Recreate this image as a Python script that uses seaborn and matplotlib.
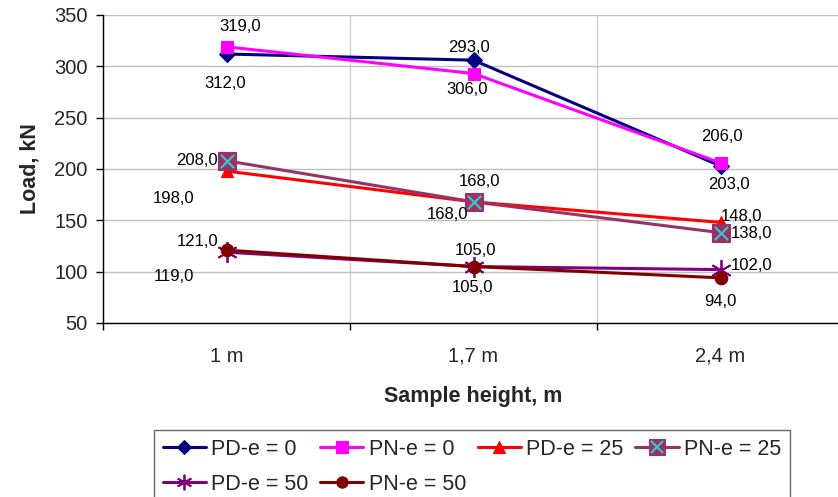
import numpy as np
import pandas as pd
import matplotlib
matplotlib.use("Agg")
import matplotlib.pyplot as plt
import seaborn as sns
from matplotlib.lines import Line2D

# data
heights = ["1 m", "1,7 m", "2,4 m"]
series_names = ["PD-e = 0", "PN-e = 0", "PD-e = 25", "PN-e = 25", "PD-e = 50", "PN-e = 50"]
pd_e0 = [312, 306, 203]
pn_e0 = [319, 293, 206]
pd_e25 = [198, 168, 148]
pn_e25 = [208, 168, 138]
pd_e50 = [119, 105, 102]
pn_e50 = [121, 105, 94]
y_ticks = [50, 100, 150, 200, 250, 300, 350]

values = [pd_e0, pn_e0, pd_e25, pn_e25, pd_e50, pn_e50]

# style per series: colour, marker, marker size
colors = ["#000080", "#FF00FF", "#FF0000", "#993366", "#800080", "#800000"]
markers = ["D", "s", "^", "s", (6, 2, 0), "o"]
msizes = [8, 9, 9, 13, 15, 9]

# data label offsets in pixels (dx, dy), dy positive = up
label_offsets = [
    [(-1, -29), (-6, -29), (8, -19)],
    [(14, 20), (-5, 26), (1, 26)],
    [(-53, -27), (-26, -13), (21, 6)],
    [(-30, 0), (6, 20), (31, -1)],
    [(-53, -24), (-1, -21), (31, 4)],
    [(-29, 9), (2, 16), (0, -24)],
]

rows = []
for name, vals in zip(series_names, values):
    for h, v in zip(heights, vals):
        rows.append({"height": h, "load": v, "series": name})
df = pd.DataFrame(rows)

sns.set_style("white")
plt.rcParams["font.family"] = ["Liberation Sans", "DejaVu Sans"]

fig = plt.figure(figsize=(8.38, 4.97), dpi=100)
ax = fig.add_axes([103 / 838, 1 - 323 / 497, 741 / 838, 308 / 497])

px = 0.72  # pixels -> points
for i, name in enumerate(series_names):
    sub = df[df["series"] == name]
    sns.lineplot(data=sub, x="height", y="load", ax=ax, color=colors[i],
                 marker=markers[i], markersize=msizes[i], markeredgecolor=colors[i],
                 markeredgewidth=1.3 if i == 4 else 0.8, linewidth=2.2,
                 sort=False, legend=False, zorder=3 + i)
    if name == "PN-e = 25":
        ax.scatter(sub["height"], sub["load"], marker="x", s=90, color="#33CCCC",
                   linewidths=1.5, zorder=3 + i + 0.5)
    for j, (h, v) in enumerate(zip(heights, values[i])):
        dx, dy = label_offsets[i][j]
        ax.annotate(f"{v},0", (j, v), xytext=(dx * px, dy * px), textcoords="offset points",
                    ha="center", va="center", fontsize=12, color="black", zorder=20)

ax.set_xlim(-0.5, 2.5)
ax.set_ylim(50, 350)
ax.set_yticks(y_ticks)
ax.set_xticks(range(len(heights)))
ax.set_xticklabels(heights)
ax.set_xticks([-0.5, 0.5, 1.5, 2.5], minor=True)
ax.grid(False)
ax.yaxis.grid(True, color="#C0C0C0", linewidth=1)
ax.xaxis.grid(True, which="minor", color="#D0D0D0", linewidth=1)
ax.tick_params(axis="x", which="major", length=0, pad=17, labelsize=14.5)
ax.tick_params(axis="x", which="minor", length=5, width=1, color="black", direction="out", bottom=True)
ax.tick_params(axis="y", length=5, width=1, color="black", direction="out", left=True, pad=6, labelsize=14.5)
for side in ["top", "right"]:
    ax.spines[side].set_visible(False)
for side in ["left", "bottom"]:
    ax.spines[side].set_color("black")
    ax.spines[side].set_linewidth(1)

ax.set_xlabel("Sample height, m", fontsize=15.5, fontweight="bold", labelpad=15)
ax.set_ylabel("Load, kN", fontsize=15.5, fontweight="bold", labelpad=10)

handles = []
for i, name in enumerate(series_names):
    h = Line2D([], [], color=colors[i], marker=markers[i],
               markersize=msizes[i] * (0.75 if i == 4 else 0.9),
               markeredgecolor=colors[i], linewidth=2.2,
               markeredgewidth=1.3 if i == 4 else 0.8)
    if name == "PN-e = 25":
        h = (h, Line2D([], [], color="#33CCCC", marker="x", markersize=9, linestyle="none",
                       markeredgewidth=1.5))
    handles.append(h)

# legend fills column by column: reorder so rows read like the reference
order = [0, 4, 1, 5, 2, 3]
leg = fig.legend([handles[k] for k in order], [series_names[k] for k in order],
                 loc="upper left", bbox_to_anchor=(154 / 838, 1 - 430 / 497), ncol=4,
                 fontsize=15.5, frameon=True, fancybox=False, edgecolor="#404040",
                 handlelength=2.0, handletextpad=0.25, columnspacing=0.55,
                 borderpad=0.4, labelspacing=0.65, borderaxespad=0)
leg.get_frame().set_linewidth(1)

fig.savefig("out.png", dpi=100)
plt.close(fig)
